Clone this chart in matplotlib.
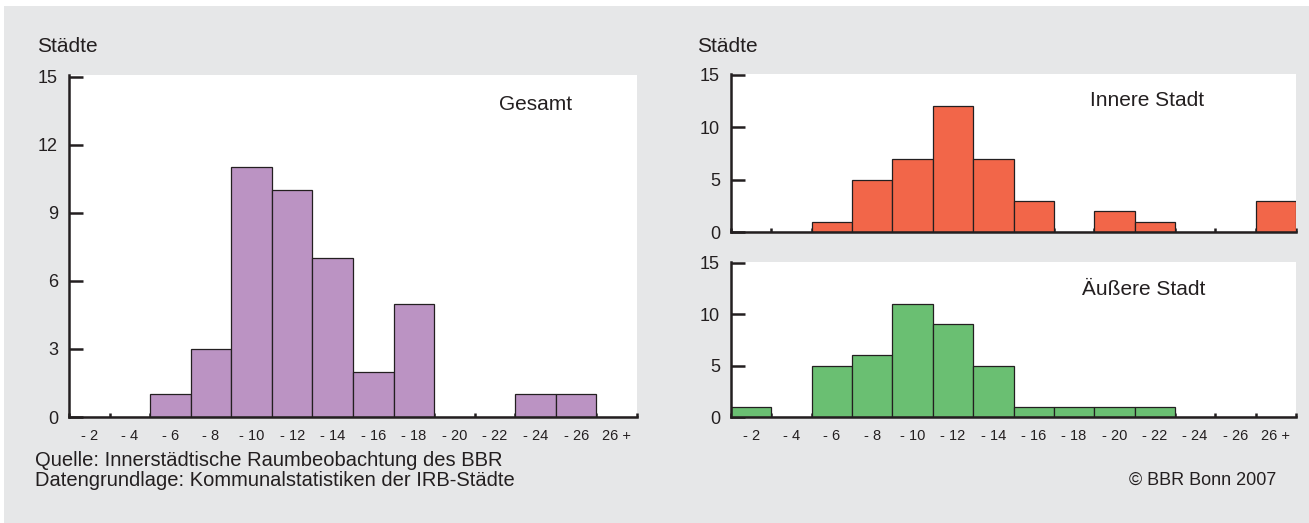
import numpy as np
import matplotlib.pyplot as plt
from matplotlib.patches import Rectangle

# Klassen und Anzahl der Städte je Klasse
klassen = ['- 2', '- 4', '- 6', '- 8', '- 10', '- 12', '- 14', '- 16',
           '- 18', '- 20', '- 22', '- 24', '- 26', '26 +']
gesamt = [0, 0, 1, 3, 11, 10, 7, 2, 5, 0, 0, 1, 1, 0]
innere_stadt = [0, 0, 1, 5, 7, 12, 7, 3, 0, 2, 1, 0, 0, 3]
aeussere_stadt = [1, 0, 5, 6, 11, 9, 5, 1, 1, 1, 1, 0, 0, 0]

BG = '#e6e7e8'
DARK = '#231f20'
plt.rcParams['font.family'] = ['Liberation Sans', 'DejaVu Sans']
plt.rcParams['text.color'] = DARK


def histo(ax, values, color, yticks, title, tx, ty, show_labels=True):
    n = len(values)
    x = np.arange(n)
    ax.bar(x, values, width=1.0, align='edge', color=color,
           edgecolor=DARK, linewidth=0.9, zorder=2)
    ax.set_xlim(0, n)
    ax.set_ylim(0, yticks[-1] * 1.005)
    ax.set_facecolor('white')
    for s in ['top', 'right']:
        ax.spines[s].set_visible(False)
    for s in ['left', 'bottom']:
        ax.spines[s].set_linewidth(1.8)
        ax.spines[s].set_color(DARK)
        ax.spines[s].set_zorder(3)
    ax.set_yticks(yticks)
    ax.tick_params(axis='y', direction='in', length=10, width=1.8,
                   color=DARK, labelsize=13, pad=8, labelcolor=DARK)
    # Striche an den Klassengrenzen, Beschriftung in der Klassenmitte
    ax.set_xticks(np.arange(n + 1))
    ax.set_xticklabels([])
    ax.tick_params(axis='x', which='major', direction='in', length=3,
                   width=1.8, color=DARK)
    if show_labels:
        ax.set_xticks(x + 0.5, klassen, minor=True)
        ax.tick_params(axis='x', which='minor', length=0, labelsize=10.5,
                       pad=9, labelcolor=DARK)
    ax.text(tx, ty, title, transform=ax.transAxes, fontsize=15,
            ha='left', va='center')


fig = plt.figure(figsize=(13.09, 5.23), dpi=100)
fig.patch.set_facecolor('white')
fig.patches.append(Rectangle((4 / 1309, 0), 1, 1 - 6 / 523,
                             transform=fig.transFigure,
                             facecolor=BG, edgecolor='none', zorder=-10))

W, H = 1309, 523


def axes_px(x0, x1, ytop, ybot):
    return fig.add_axes([x0 / W, 1 - ybot / H, (x1 - x0) / W, (ybot - ytop) / H])


ax1 = axes_px(69, 637, 75, 417)
histo(ax1, gesamt, '#bb93c3', [0, 3, 6, 9, 12, 15], 'Gesamt', 0.757, 0.915)

ax2 = axes_px(731, 1296, 74, 232)
histo(ax2, innere_stadt, '#f26649', [0, 5, 10, 15], 'Innere Stadt',
      0.635, 0.83, show_labels=False)

ax3 = axes_px(731, 1296, 262, 417)
histo(ax3, aeussere_stadt, '#6abf72', [0, 5, 10, 15], 'Äußere Stadt',
      0.621, 0.82)

fig.text(37 / W, 1 - 47 / H, 'Städte', fontsize=15, ha='left', va='center')
fig.text(697 / W, 1 - 46 / H, 'Städte', fontsize=15, ha='left', va='center')

fig.text(35 / W, 1 - 461 / H, 'Quelle: Innerstädtische Raumbeobachtung des BBR',
         fontsize=14.5, ha='left', va='center')
fig.text(35 / W, 1 - 480 / H, 'Datengrundlage: Kommunalstatistiken der IRB-Städte',
         fontsize=14.5, ha='left', va='center')
fig.text(1276 / W, 1 - 480 / H, '© BBR Bonn 2007', fontsize=13,
         ha='right', va='center')

fig.savefig('out.png', dpi=100, facecolor=fig.get_facecolor())
